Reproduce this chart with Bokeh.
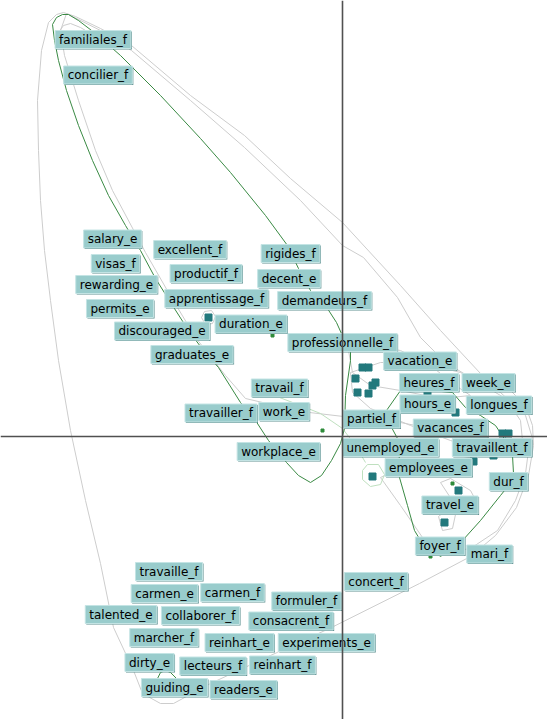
from bokeh.plotting import figure
from bokeh.models import ColumnDataSource, Range1d, Span
from bokeh.core.properties import value
from bokeh.embed import file_html
from bokeh.resources import INLINE

# ---- term coordinates (dimension 1, dimension 2) ----
labels = ["familiales_f", "concilier_f", "salary_e", "excellent_f", "visas_f", "productif_f",
          "rewarding_e", "rigides_f", "decent_e", "apprentissage_f", "demandeurs_f", "permits_e",
          "discouraged_e", "duration_e", "professionnelle_f", "graduates_e", "vacation_e",
          "heures_f", "week_e", "hours_e", "longues_f", "partiel_f", "vacances_f", "unemployed_e",
          "travaillent_f", "employees_e", "dur_f", "travel_e", "foyer_f", "mari_f", "travail_f",
          "travailler_f", "work_e", "workplace_e", "concert_f", "travaille_f", "carmen_e",
          "carmen_f", "formuler_f", "talented_e", "collaborer_f", "consacrent_f", "marcher_f",
          "reinhart_e", "experiments_e", "dirty_e", "lecteurs_f", "reinhart_f", "guiding_e",
          "readers_e"]
label_x = [-2.495, -2.445, -2.30, -1.525, -2.27, -1.365, -2.26, -0.52, -0.535, -1.26, -0.18,
           -2.225, -1.805, -0.915, 0.00, -1.505, 0.775, 0.865, 1.46, 0.85, 1.565, 0.29, 1.08,
           0.48, 1.495, 0.86, 1.66, 1.075, 0.975, 1.47, -0.63, -1.215, -0.585, -0.64, 0.335,
           -1.735, -1.78, -1.10, -0.36, -2.215, -1.42, -0.515, -1.785, -1.03, -0.16, -1.93,
           -1.295, -0.60, -1.68, -0.99]
label_y = [3.97, 3.615, 1.975, 1.87, 1.73, 1.63, 1.52, 1.83, 1.58, 1.38, 1.36, 1.28, 1.055,
           1.125, 0.94, 0.82, 0.755, 0.54, 0.54, 0.325, 0.315, 0.175, 0.085, -0.11, -0.11,
           -0.31, -0.45, -0.685, -1.095, -1.175, 0.485, 0.235, 0.25, -0.15, -1.45, -1.35,
           -1.57, -1.56, -1.645, -1.78, -1.79, -1.845, -2.01, -2.06, -2.06, -2.26, -2.295,
           -2.285, -2.51, -2.53]

# ---- document points ----
doc_x = [-1.34, 0.20, 0.26, 0.13, 0.30, 0.33, 0.15, 0.26, 0.85, 1.13, 1.60, 1.66, 1.51, 1.31,
         0.30, 1.16, 1.02]
doc_y = [1.19, 0.69, 0.69, 0.58, 0.51, 0.54, 0.44, 0.43, 0.44, 0.24, 0.03, 0.03, -0.19, -0.25,
         -0.40, -0.54, -0.86]
dot_x = [-0.70, -0.20, 1.10, 0.88]
dot_y = [1.01, 0.06, -0.47, -1.20]

# ---- cluster hull curves ----
green_main_x = [-2.80, -2.86, -2.90, -2.88, -2.84, -2.76, -2.64, -2.50, -2.34, -2.17, -2.02,
                -1.87, -1.70, -1.54, -1.39, -1.24, -1.02, -0.87, -0.74, -0.56, -0.44, -0.32,
                -0.21, -0.11, -0.02, 0.02, 0.03, 0.08, 0.08, 0.03, -0.06, -0.17, -0.32, -0.44,
                -0.55, -0.77, -1.12, -1.42, -1.82, -2.22, -2.47, -2.64, -2.74, -2.80]
green_main_y = [4.22, 4.19, 4.12, 3.96, 3.76, 3.46, 3.11, 2.76, 2.41, 2.11, 1.86, 1.58, 1.31,
                1.06, 0.86, 0.69, 0.34, 0.16, -0.04, -0.26, -0.39, -0.46, -0.39, -0.24, -0.07,
                0.08, 0.41, 0.76, 0.86, 0.94, 1.14, 1.31, 1.46, 1.68, 1.91, 2.21, 2.64, 2.98,
                3.41, 3.81, 4.03, 4.16, 4.22, 4.22]
green_right_x = [1.10, 0.88, 0.58, 0.44, 0.48, 0.55, 0.57, 0.57, 0.65, 0.72, 0.78, 0.98, 1.20,
                 1.38, 1.58, 1.66, 1.71, 1.70, 1.63, 1.53, 1.38, 1.23, 1.10]
green_right_y = [0.44, 0.46, 0.46, 0.26, 0.11, -0.02, -0.24, -0.41, -0.69, -0.94, -1.04, -1.20,
                 -1.04, -0.84, -0.59, -0.49, -0.37, -0.19, -0.04, 0.11, 0.21, 0.29, 0.44]
green_small_x = [-1.85, -1.82, -1.77, -1.72, -1.66]
green_small_y = [-2.42, -2.36, -2.34, -2.36, -2.42]

gray_outer_x = [-2.86, -2.94, -3.01, -3.05, -3.04, -3.02, -2.98, -2.92, -2.84, -2.72, -2.57,
                -2.42, -2.29, -2.09, -2.00, -1.82, -1.69, -1.32, -0.72, -0.11, 0.77, 1.28, 1.53,
                1.74, 1.86, 1.91, 1.90, 1.83, 1.68, 1.38, 0.98, 0.58, 0.00, -0.52, -0.98, -1.52,
                -2.11, -2.42, -2.67, -2.79, -2.86]
gray_outer_y = [4.22, 4.14, 3.86, 3.36, 2.86, 2.36, 1.86, 1.36, 0.76, 0.06, -0.64, -1.27,
                -1.91, -2.34, -2.57, -2.67, -2.67, -2.47, -2.19, -1.91, -1.47, -1.20, -0.99,
                -0.71, -0.39, -0.09, 0.11, 0.31, 0.46, 0.63, 1.06, 1.51, 2.14, 2.58, 3.01, 3.41,
                3.91, 4.08, 4.20, 4.24, 4.22]
gray_inner_x = [-2.76, -2.42, -2.11, -1.52, -0.98, -0.42, 0.00, 0.21, 0.55, 0.78, 1.03, 1.33,
                1.63, 1.78, 1.80, 1.63, 1.28, 0.88, 0.48, 0.01, -0.33, -0.67, -0.97, -1.17,
                -1.47, -1.74, -1.97, -2.30, -2.47, -2.64, -2.78, -2.82, -2.76]
gray_inner_y = [4.23, 4.06, 3.86, 3.36, 2.89, 2.36, 1.91, 1.79, 1.39, 0.99, 0.74, 0.56, 0.38,
                0.16, -0.04, -0.12, -0.04, 0.08, 0.16, 0.20, 0.24, 0.31, 0.38, 0.61, 0.99, 1.44,
                1.84, 2.46, 2.86, 3.36, 3.81, 4.06, 4.23]
gray_c1_x = [0.08, 0.38, 0.78, 1.18, 1.58, 1.83, 1.90, 1.78, 1.48, 1.08, 0.68, 0.28, 0.10, 0.08]
gray_c1_y = [0.64, 0.74, 0.74, 0.64, 0.44, 0.21, -0.02, -0.16, -0.16, -0.04, 0.11, 0.28, 0.44,
             0.64]
gray_c2_x = [0.38, 0.58, 0.80, 1.03, 1.28, 1.55, 1.73, 1.83, 1.86, 1.73, 1.38, 0.98, 0.58, 0.38]
gray_c2_y = [-0.41, -0.69, -1.01, -1.16, -1.12, -0.94, -0.64, -0.37, -0.14, -0.04, -0.19,
             -0.26, -0.32, -0.41]
gray_c4_x = [0.96, 1.00, 1.10, 1.13, 1.06, 0.96]
gray_c4_y = [-0.80, -0.94, -0.92, -0.78, -0.72, -0.80]
gray_c5_x = [0.98, 1.08, 1.28, 1.36, 1.28, 1.13, 0.98]
gray_c5_y = [-0.46, -0.42, -0.54, -0.69, -0.76, -0.69, -0.46]
gray_c6_x = [-1.41, -1.38, -1.31, -1.27, -1.30, -1.37, -1.41]
gray_c6_y = [1.19, 1.25, 1.26, 1.20, 1.13, 1.12, 1.19]
gray_c7_x = [-2.84, -2.79, -2.72, -2.62, -2.52]
gray_c7_y = [4.04, 4.11, 4.13, 4.09, 4.03]
gray_c8_x = [0.06, 0.28, 0.58, 0.88, 1.13, 1.28, 0.98, 0.58, 0.28, 0.10, 0.06]
gray_c8_y = [0.86, 0.91, 0.86, 0.71, 0.51, 0.41, 0.38, 0.46, 0.51, 0.64, 0.86]
lgreen_c3_x = [0.20, 0.25, 0.36, 0.42, 0.38, 0.28, 0.20, 0.20]
lgreen_c3_y = [-0.34, -0.28, -0.28, -0.38, -0.48, -0.50, -0.43, -0.34]
lgreen_line_x = [-0.63, -0.42, -0.22, 0.00, 0.13, 0.23]
lgreen_line_y = [0.39, 0.31, 0.23, 0.08, -0.09, -0.26]

p = figure(width=547, height=719, x_range=Range1d(-3.42, 2.05), y_range=Range1d(-2.83, 4.36),
           x_axis_type=None, y_axis_type=None, output_backend="svg", toolbar_location=None,
           min_border=0)
p.outline_line_color = None
p.background_fill_color = "white"

GRAY = "#cdcdcd"
for xs, ys in [(gray_outer_x, gray_outer_y), (gray_inner_x, gray_inner_y),
               (gray_c1_x, gray_c1_y), (gray_c2_x, gray_c2_y), (gray_c4_x, gray_c4_y),
               (gray_c5_x, gray_c5_y), (gray_c6_x, gray_c6_y), (gray_c7_x, gray_c7_y),
               (gray_c8_x, gray_c8_y)]:
    p.line(xs, ys, line_color=GRAY, line_width=1)
for xs, ys in [(lgreen_c3_x, lgreen_c3_y), (lgreen_line_x, lgreen_line_y)]:
    p.line(xs, ys, line_color="#bfe0bf", line_width=1)
for xs, ys in [(green_main_x, green_main_y), (green_right_x, green_right_y),
               (green_small_x, green_small_y)]:
    p.line(xs, ys, line_color="#3a8a44", line_width=1)

p.add_layout(Span(location=0, dimension="height", line_color="#505050", line_width=1.6))
p.add_layout(Span(location=0, dimension="width", line_color="#505050", line_width=1.6))

p.scatter(doc_x, doc_y, marker="square", size=7, fill_color="#22797c", line_color="#22797c")
p.scatter(dot_x, dot_y, marker="square", size=3, fill_color="#2e8b3a", line_color="#2e8b3a")

src = ColumnDataSource(dict(x=label_x, y=label_y, text=labels))
pad = dict(left=4, right=4, top=2, bottom=2)
p.text(x="x", y="y", text="text", source=src, text_font=value("DejaVu Sans"),
       text_font_size="12px", text_align="center", text_baseline="middle", text_alpha=0,
       x_offset=1, y_offset=1, background_fill_color="#5e8f8f", padding=pad)
p.text(x="x", y="y", text="text", source=src, text_font=value("DejaVu Sans"),
       text_font_size="12px", text_align="center", text_baseline="middle", text_color="black",
       background_fill_color="#99cccc", border_line_color="#c4e4e4", border_line_width=1,
       padding=pad)

open("out.html", "w").write(file_html(p, INLINE))
